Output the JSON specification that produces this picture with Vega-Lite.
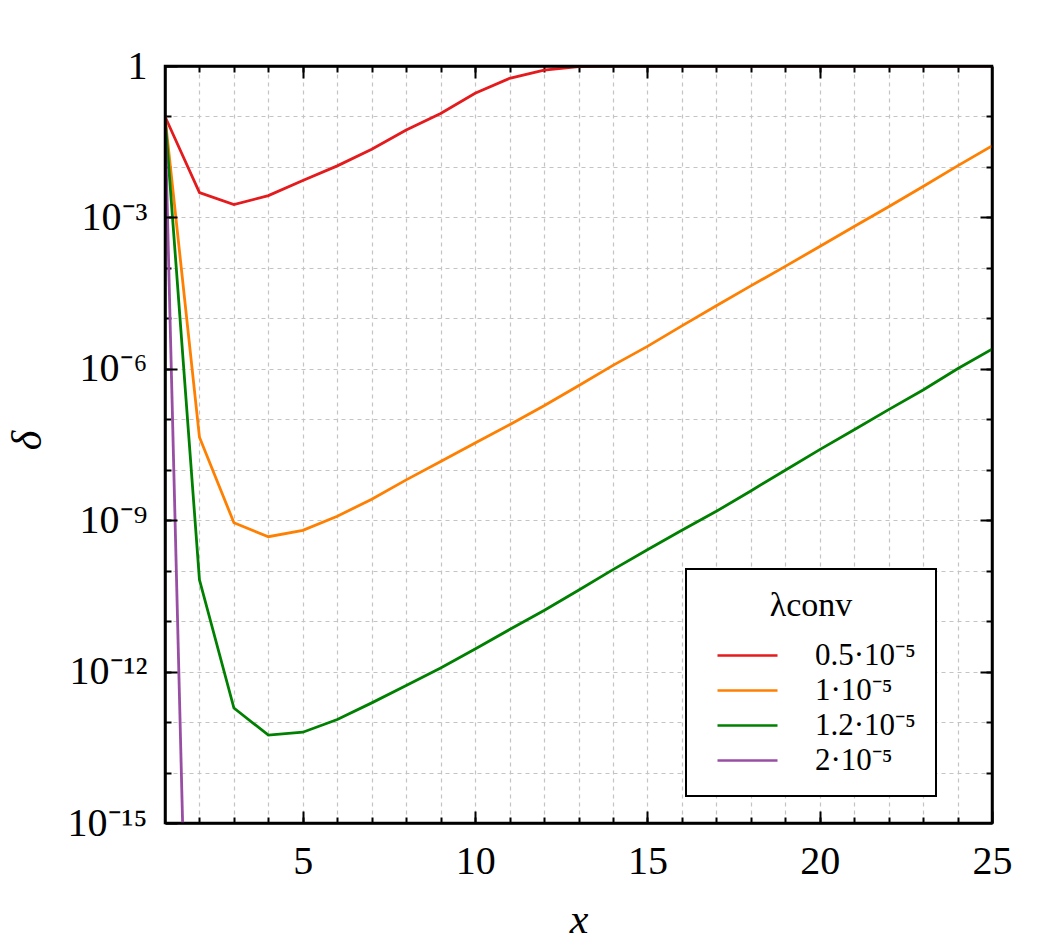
{
  "$schema": "https://vega.github.io/schema/vega-lite/v6.json",
  "width": 827,
  "height": 757,
  "autosize": "none",
  "padding": {"left": 165, "top": 66, "right": 71, "bottom": 123},
  "background": "white",
  "config": {
    "font": "Liberation Serif",
    "view": {"stroke": "black", "strokeWidth": 2.5},
    "axis": {"domain": false, "tickColor": "black", "tickWidth": 2, "labelColor": "black", "labelFont": "Liberation Serif", "labelFontSize": 40, "titleColor": "black", "titleFont": "Liberation Serif", "titleFontWeight": "normal", "titleFontStyle": "italic", "titleFontSize": 42},
    "legend": {"strokeWidth": 2}
  },
  "data": {"values": [
    {"x": 1, "d": 0.1, "s": "0.5·10⁻⁵"}, {"x": 2, "d": 3.1e-3, "s": "0.5·10⁻⁵"}, {"x": 3, "d": 1.8e-3, "s": "0.5·10⁻⁵"}, {"x": 4, "d": 2.7e-3, "s": "0.5·10⁻⁵"}, {"x": 5, "d": 5.4e-3, "s": "0.5·10⁻⁵"}, {"x": 6, "d": 0.0105, "s": "0.5·10⁻⁵"}, {"x": 7, "d": 0.0224, "s": "0.5·10⁻⁵"}, {"x": 8, "d": 0.054, "s": "0.5·10⁻⁵"}, {"x": 9, "d": 0.115, "s": "0.5·10⁻⁵"}, {"x": 10, "d": 0.288, "s": "0.5·10⁻⁵"}, {"x": 11, "d": 0.57, "s": "0.5·10⁻⁵"}, {"x": 12, "d": 0.83, "s": "0.5·10⁻⁵"}, {"x": 13, "d": 0.97, "s": "0.5·10⁻⁵"}, {"x": 14, "d": 1, "s": "0.5·10⁻⁵"}, {"x": 15, "d": 1, "s": "0.5·10⁻⁵"}, {"x": 16, "d": 1, "s": "0.5·10⁻⁵"}, {"x": 17, "d": 1, "s": "0.5·10⁻⁵"}, {"x": 18, "d": 1, "s": "0.5·10⁻⁵"}, {"x": 19, "d": 1, "s": "0.5·10⁻⁵"}, {"x": 20, "d": 1, "s": "0.5·10⁻⁵"}, {"x": 21, "d": 1, "s": "0.5·10⁻⁵"}, {"x": 22, "d": 1, "s": "0.5·10⁻⁵"}, {"x": 23, "d": 1, "s": "0.5·10⁻⁵"}, {"x": 24, "d": 1, "s": "0.5·10⁻⁵"}, {"x": 25, "d": 1, "s": "0.5·10⁻⁵"},
    {"x": 1, "d": 0.1, "s": "1·10⁻⁵"}, {"x": 2, "d": 4.4e-8, "s": "1·10⁻⁵"}, {"x": 3, "d": 8.9e-10, "s": "1·10⁻⁵"}, {"x": 4, "d": 4.7e-10, "s": "1·10⁻⁵"}, {"x": 5, "d": 6.3e-10, "s": "1·10⁻⁵"}, {"x": 6, "d": 1.2e-9, "s": "1·10⁻⁵"}, {"x": 7, "d": 2.6e-9, "s": "1·10⁻⁵"}, {"x": 8, "d": 6.3e-9, "s": "1·10⁻⁵"}, {"x": 9, "d": 1.45e-8, "s": "1·10⁻⁵"}, {"x": 10, "d": 3.4e-8, "s": "1·10⁻⁵"}, {"x": 11, "d": 7.8e-8, "s": "1·10⁻⁵"}, {"x": 12, "d": 1.85e-7, "s": "1·10⁻⁵"}, {"x": 13, "d": 4.6e-7, "s": "1·10⁻⁵"}, {"x": 14, "d": 1.17e-6, "s": "1·10⁻⁵"}, {"x": 15, "d": 2.78e-6, "s": "1·10⁻⁵"}, {"x": 16, "d": 7.1e-6, "s": "1·10⁻⁵"}, {"x": 17, "d": 1.78e-5, "s": "1·10⁻⁵"}, {"x": 18, "d": 4.4e-5, "s": "1·10⁻⁵"}, {"x": 19, "d": 1.07e-4, "s": "1·10⁻⁵"}, {"x": 20, "d": 2.65e-4, "s": "1·10⁻⁵"}, {"x": 21, "d": 6.6e-4, "s": "1·10⁻⁵"}, {"x": 22, "d": 1.63e-3, "s": "1·10⁻⁵"}, {"x": 23, "d": 4.1e-3, "s": "1·10⁻⁵"}, {"x": 24, "d": 0.0105, "s": "1·10⁻⁵"}, {"x": 25, "d": 0.026, "s": "1·10⁻⁵"},
    {"x": 1, "d": 0.1, "s": "1.2·10⁻⁵"}, {"x": 2, "d": 6.6e-11, "s": "1.2·10⁻⁵"}, {"x": 3, "d": 1.9e-13, "s": "1.2·10⁻⁵"}, {"x": 4, "d": 5.5e-14, "s": "1.2·10⁻⁵"}, {"x": 5, "d": 6.3e-14, "s": "1.2·10⁻⁵"}, {"x": 6, "d": 1.12e-13, "s": "1.2·10⁻⁵"}, {"x": 7, "d": 2.4e-13, "s": "1.2·10⁻⁵"}, {"x": 8, "d": 5.3e-13, "s": "1.2·10⁻⁵"}, {"x": 9, "d": 1.18e-12, "s": "1.2·10⁻⁵"}, {"x": 10, "d": 2.8e-12, "s": "1.2·10⁻⁵"}, {"x": 11, "d": 6.8e-12, "s": "1.2·10⁻⁵"}, {"x": 12, "d": 1.63e-11, "s": "1.2·10⁻⁵"}, {"x": 13, "d": 4.1e-11, "s": "1.2·10⁻⁵"}, {"x": 14, "d": 1.05e-10, "s": "1.2·10⁻⁵"}, {"x": 15, "d": 2.6e-10, "s": "1.2·10⁻⁵"}, {"x": 16, "d": 6.3e-10, "s": "1.2·10⁻⁵"}, {"x": 17, "d": 1.5e-9, "s": "1.2·10⁻⁵"}, {"x": 18, "d": 3.8e-9, "s": "1.2·10⁻⁵"}, {"x": 19, "d": 9.8e-9, "s": "1.2·10⁻⁵"}, {"x": 20, "d": 2.5e-8, "s": "1.2·10⁻⁵"}, {"x": 21, "d": 6.2e-8, "s": "1.2·10⁻⁵"}, {"x": 22, "d": 1.55e-7, "s": "1.2·10⁻⁵"}, {"x": 23, "d": 3.8e-7, "s": "1.2·10⁻⁵"}, {"x": 24, "d": 1e-6, "s": "1.2·10⁻⁵"}, {"x": 25, "d": 2.45e-6, "s": "1.2·10⁻⁵"},
    {"x": 1, "d": 0.1, "s": "2·10⁻⁵"}, {"x": 2, "d": 4e-29, "s": "2·10⁻⁵"}
  ]},
  "layer": [
    {
      "mark": {"type": "line", "opacity": 0, "clip": true},
      "encoding": {
        "x": {"field": "x", "type": "quantitative", "scale": {"domain": [1, 25], "nice": false, "zero": false},
              "axis": {"orient": "bottom", "values": [2,3,4,5,6,7,8,9,10,11,12,13,14,15,16,17,18,19,20,21,22,23,24], "tickSize": -6, "labels": false, "title": null, "grid": true, "gridDash": [4, 4], "gridColor": "#c4c4c4", "gridWidth": 1.2}},
        "y": {"field": "d", "type": "quantitative", "scale": {"type": "log", "domain": [1e-15, 1], "nice": false},
              "axis": {"orient": "left", "values": [1e-14,1e-13,1e-12,1e-11,1e-10,1e-9,1e-8,1e-7,1e-6,1e-5,1e-4,1e-3,1e-2,1e-1], "tickSize": -6, "labels": false, "title": null, "grid": true, "gridDash": [4, 4], "gridColor": "#c4c4c4", "gridWidth": 1.2}},
        "detail": {"field": "s"}
      }
    },
    {
      "mark": {"type": "line", "opacity": 0, "clip": true},
      "encoding": {
        "x": {"field": "x", "type": "quantitative",
              "axis": {"orient": "top", "values": [2,3,4,5,6,7,8,9,10,11,12,13,14,15,16,17,18,19,20,21,22,23,24], "tickSize": -6, "labels": false, "title": null, "grid": false}},
        "y": {"field": "d", "type": "quantitative",
              "axis": {"orient": "right", "values": [1e-14,1e-13,1e-12,1e-11,1e-10,1e-9,1e-8,1e-7,1e-6,1e-5,1e-4,1e-3,1e-2,1e-1], "tickSize": -6, "labels": false, "title": null, "grid": false}},
        "detail": {"field": "s"}
      }
    },
    {
      "mark": {"type": "line", "opacity": 0, "clip": true},
      "encoding": {
        "x": {"field": "x", "type": "quantitative",
              "axis": {"orient": "top", "values": [5, 10, 15, 20], "tickSize": -12, "labels": false, "title": null, "grid": false, "domain": true, "domainColor": "black", "domainWidth": 2.5, "zindex": 1}},
        "y": {"field": "d", "type": "quantitative",
              "axis": {"orient": "right", "values": [1e-12, 1e-9, 1e-6, 1e-3], "tickSize": -12, "labels": false, "title": null, "grid": false, "domain": true, "domainColor": "black", "domainWidth": 2.5, "zindex": 1}},
        "detail": {"field": "s"}
      }
    },
    {
      "mark": {"type": "line", "strokeWidth": 2.8, "clip": true},
      "encoding": {
        "x": {"field": "x", "type": "quantitative",
              "axis": {"orient": "bottom", "values": [5, 10, 15, 20, 25], "tickSize": -12, "grid": false, "domain": true, "domainColor": "black", "domainWidth": 2.5, "zindex": 1, "labelPadding": 50, "labelBaseline": "middle", "labelFlush": false, "title": "x", "titleX": 413.5, "titleY": 109, "titleBaseline": "alphabetic", "titleAlign": "center"}},
        "y": {"field": "d", "type": "quantitative",
              "axis": {"orient": "left", "values": [1e-15, 1e-12, 1e-9, 1e-6, 1e-3, 1], "tickSize": -12, "grid": false, "domain": true, "domainColor": "black", "domainWidth": 2.5, "zindex": 1, "labelPadding": 30, "labelFlush": false,
                       "labelExpr": "datum.value > 0.5 ? '1' : datum.value > 1e-4 ? '10⁻³' : datum.value > 1e-7 ? '10⁻⁶' : datum.value > 1e-10 ? '10⁻⁹' : datum.value > 1e-13 ? '10⁻¹²' : '10⁻¹⁵'",
                       "title": "δ", "titleX": -125, "titleY": 374, "titleAngle": -90, "titleBaseline": "alphabetic", "titleAlign": "center"}},
        "color": {"field": "s", "type": "nominal",
                  "scale": {"domain": ["0.5·10⁻⁵", "1·10⁻⁵", "1.2·10⁻⁵", "2·10⁻⁵"], "range": ["#e41a1c", "#ff7f00", "#008000", "#984ea3"]},
                  "legend": {"orient": "none", "legendX": 521, "legendY": 503, "title": "λconv", "titleFont": "Liberation Serif", "titleFontSize": 34, "titleFontWeight": "normal", "titleColor": "black", "titleAnchor": "middle", "titlePadding": 17,
                             "labelFont": "Liberation Serif", "labelFontSize": 31, "labelColor": "black", "labelOffset": 52, "labelLimit": 400,
                             "symbolType": "M-4,0H4", "symbolSize": 225, "symbolStrokeWidth": 2.5, "symbolOffset": 26,
                             "padding": 20, "rowPadding": 3, "strokeColor": "black", "fillColor": "white"}}
      }
    }
  ]
}
